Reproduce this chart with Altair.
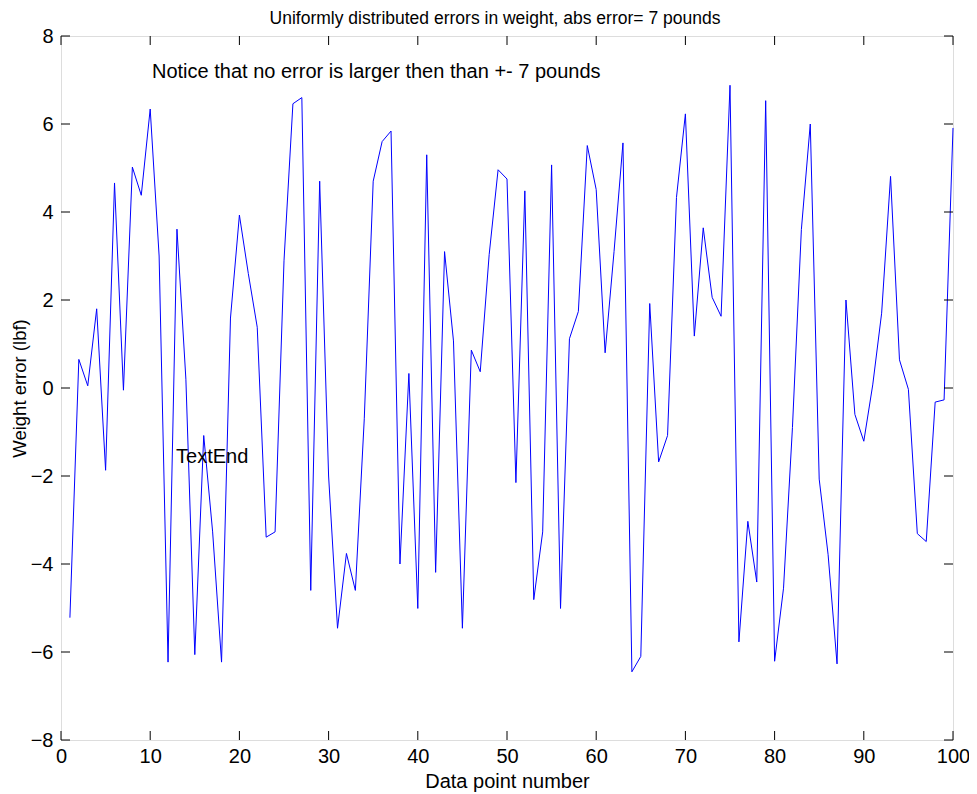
import altair as alt
import pandas as pd

point_number = list(range(1, 101))
weight_error = [
    -5.22, 0.65, 0.05, 1.80, -1.87, 4.66, -0.05, 5.02, 4.38, 6.34,
    3.00, -6.23, 3.61, 0.20, -6.06, -1.08, -3.27, -6.23, 1.59, 3.93,
    2.60, 1.38, -3.39, -3.27, 2.89, 6.46, 6.60, -4.60, 4.70, -2.00,
    -5.46, -3.76, -4.60, -0.70, 4.70, 5.60, 5.84, -4.00, 0.33, -5.01,
    5.30, -4.19, 3.10, 1.07, -5.46, 0.86, 0.37, 3.03, 4.96, 4.75,
    -2.15, 4.48, -4.81, -3.27, 5.07, -5.01, 1.12, 1.74, 5.51, 4.51,
    0.80, 3.10, 5.57, -6.45, -6.10, 1.92, -1.68, -1.08, 4.33, 6.23,
    1.18, 3.64, 2.06, 1.63, 6.88, -5.77, -3.03, -4.41, 6.53, -6.21,
    -4.55, -0.90, 3.60, 6.00, -2.07, -3.79, -6.27, 2.00, -0.60, -1.21,
    0.07, 1.70, 4.81, 0.64, -0.03, -3.31, -3.49, -0.32, -0.27, 5.91,
]
x_ticks = [0, 10, 20, 30, 40, 50, 60, 70, 80, 90, 100]
y_ticks = [-8, -6, -4, -2, 0, 2, 4, 6, 8]
note_x = [10.2, 12.9]
note_y = [7.18, -1.57]
note_text = ["Notice that no error is larger then than +- 7 pounds", "TextEnd"]

W, H = 892, 704
FONT = "Liberation Sans"
FS = 20

df = pd.DataFrame({"x": point_number, "y": weight_error})
xt = pd.DataFrame({"x": x_ticks})
yt = pd.DataFrame({"y": y_ticks})
notes = pd.DataFrame({"x": note_x, "y": note_y, "t": note_text})

xscale = alt.Scale(domain=[0, 100], nice=False, zero=False)
yscale = alt.Scale(domain=[-8, 8], nice=False, zero=False)

line = alt.Chart(df).mark_line(color="#0000ff", strokeWidth=1).encode(
    x=alt.X("x:Q", scale=xscale,
            axis=alt.Axis(title="Data point number", values=x_ticks, ticks=False, domain=False,
                          grid=False, labelFontSize=FS, labelFont=FONT, labelColor="black",
                          labelPadding=6, titleFontSize=FS, titleFont=FONT,
                          titleFontWeight="normal", titleColor="black", titlePadding=5,
                          labelFlush=False)),
    y=alt.Y("y:Q", scale=yscale,
            axis=alt.Axis(title="Weight error (lbf)", values=y_ticks, ticks=False, domain=False,
                          grid=False, labelFontSize=FS, labelFont=FONT, labelColor="black",
                          labelPadding=8, titleFontSize=18.5, titleFont=FONT,
                          titleFontWeight="normal", titleColor="black", titlePadding=1,
                          labelFlush=False)),
)

tick_len = 9
bottom_ticks = alt.Chart(xt).mark_rule(color="black", strokeWidth=1).encode(
    x=alt.X("x:Q", scale=xscale), y=alt.value(H), y2=alt.value(H - tick_len))
top_ticks = alt.Chart(xt).mark_rule(color="black", strokeWidth=1).encode(
    x=alt.X("x:Q", scale=xscale), y=alt.value(0), y2=alt.value(tick_len))
left_ticks = alt.Chart(yt).mark_rule(color="black", strokeWidth=1).encode(
    y=alt.Y("y:Q", scale=yscale), x=alt.value(0), x2=alt.value(tick_len))
right_ticks = alt.Chart(yt).mark_rule(color="black", strokeWidth=1).encode(
    y=alt.Y("y:Q", scale=yscale), x=alt.value(W), x2=alt.value(W - tick_len))

text = alt.Chart(notes).mark_text(align="left", baseline="middle", fontSize=FS,
                                   font=FONT, color="black").encode(
    x=alt.X("x:Q", scale=xscale), y=alt.Y("y:Q", scale=yscale), text="t:N")

chart = alt.layer(line, bottom_ticks, top_ticks, left_ticks, right_ticks, text).properties(
    width=W, height=H,
    autosize=alt.AutoSizeParams(type="none"),
    padding={"left": 53, "top": 28, "right": 16, "bottom": 54},
    title=alt.TitleParams("Uniformly distributed errors in weight, abs error= 7 pounds",
                          fontSize=17.5, font=FONT, fontWeight="normal", color="black",
                          offset=0, dy=1, dx=-12, anchor="middle"),
).configure_view(stroke="black", strokeWidth=1).configure(background="white")

chart.save("out.html", embed_options={"renderer": "svg", "actions": False})
